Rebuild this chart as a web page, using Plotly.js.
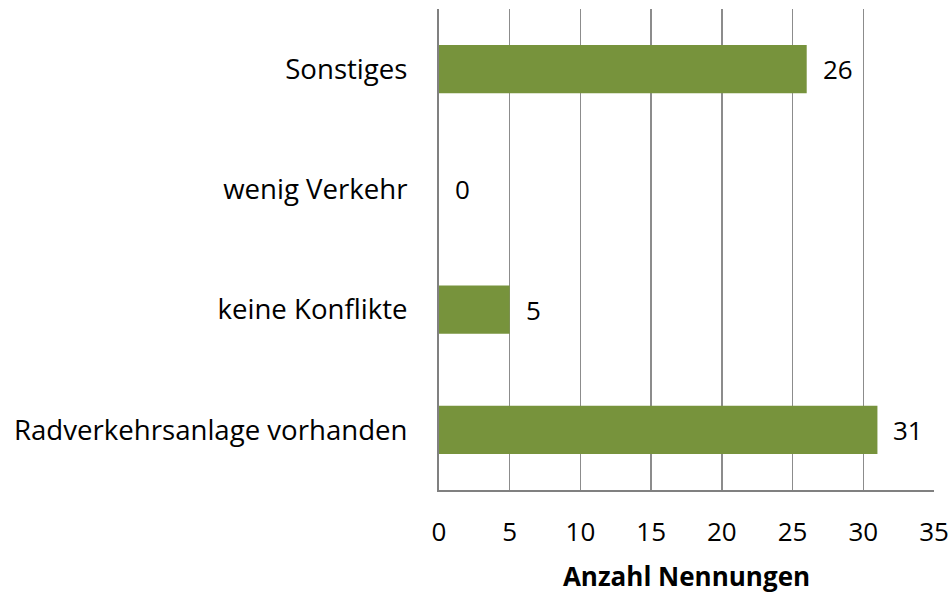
<!DOCTYPE html>
<html>
<head>
<meta charset="utf-8">
<script src="https://cdn.plot.ly/plotly-3.0.1.min.js"></script>
<style>html,body{margin:0;padding:0;background:#fff;}#chart{width:952px;height:594px;}</style>
</head>
<body>
<div id="chart"></div>
<script>
const categories = ["Radverkehrsanlage vorhanden", "keine Konflikte", "wenig Verkehr", "Sonstiges"];
const values = [31, 5, 0, 26];
const tickValues = [0, 5, 10, 15, 20, 25, 30, 35];
const xTitle = "Anzahl Nennungen";

const fontFam = "Open Sans, Liberation Sans, sans-serif";
const trace = {
  type: "bar",
  orientation: "h",
  y: categories,
  x: values,
  marker: {color: "#77933C"},
  hoverinfo: "none"
};
const annotations = values.map((v, i) => ({
  x: v, y: categories[i], xref: "x", yref: "y",
  text: String(v), showarrow: false,
  xanchor: "left", xshift: 14,
  font: {family: fontFam, size: 26, color: "#000"}
}));
const layout = {
  width: 952, height: 594,
  margin: {l: 439, r: 18, t: 9, b: 104},
  paper_bgcolor: "#fff", plot_bgcolor: "#fff",
  bargap: 0.6,
  showlegend: false,
  annotations: annotations,
  font: {family: fontFam, size: 26, color: "#000"},
  xaxis: {
    range: [0, 35],
    tickvals: tickValues,
    ticktext: tickValues.map(String),
    showgrid: true, gridcolor: "#8c8c8c", gridwidth: 1.5,
    zeroline: false,
    showline: true, linecolor: "#808080", linewidth: 2,
    ticks: "", ticklabelstandoff: 18,
    tickfont: {family: fontFam, size: 26, color: "#000"},
    title: {text: "<b>" + xTitle + "</b>", font: {family: fontFam, size: 26, color: "#000"}, standoff: 20},
    fixedrange: true
  },
  yaxis: {
    type: "category",
    categoryorder: "array", categoryarray: categories,
    showgrid: false, zeroline: false,
    showline: true, linecolor: "#808080", linewidth: 2,
    ticks: "", ticklabelstandoff: 24,
    tickfont: {family: fontFam, size: 27.6, color: "#000"},
    fixedrange: true
  }
};
Plotly.newPlot("chart", [trace], layout, {displayModeBar: false, staticPlot: true});
</script>
</body>
</html>
